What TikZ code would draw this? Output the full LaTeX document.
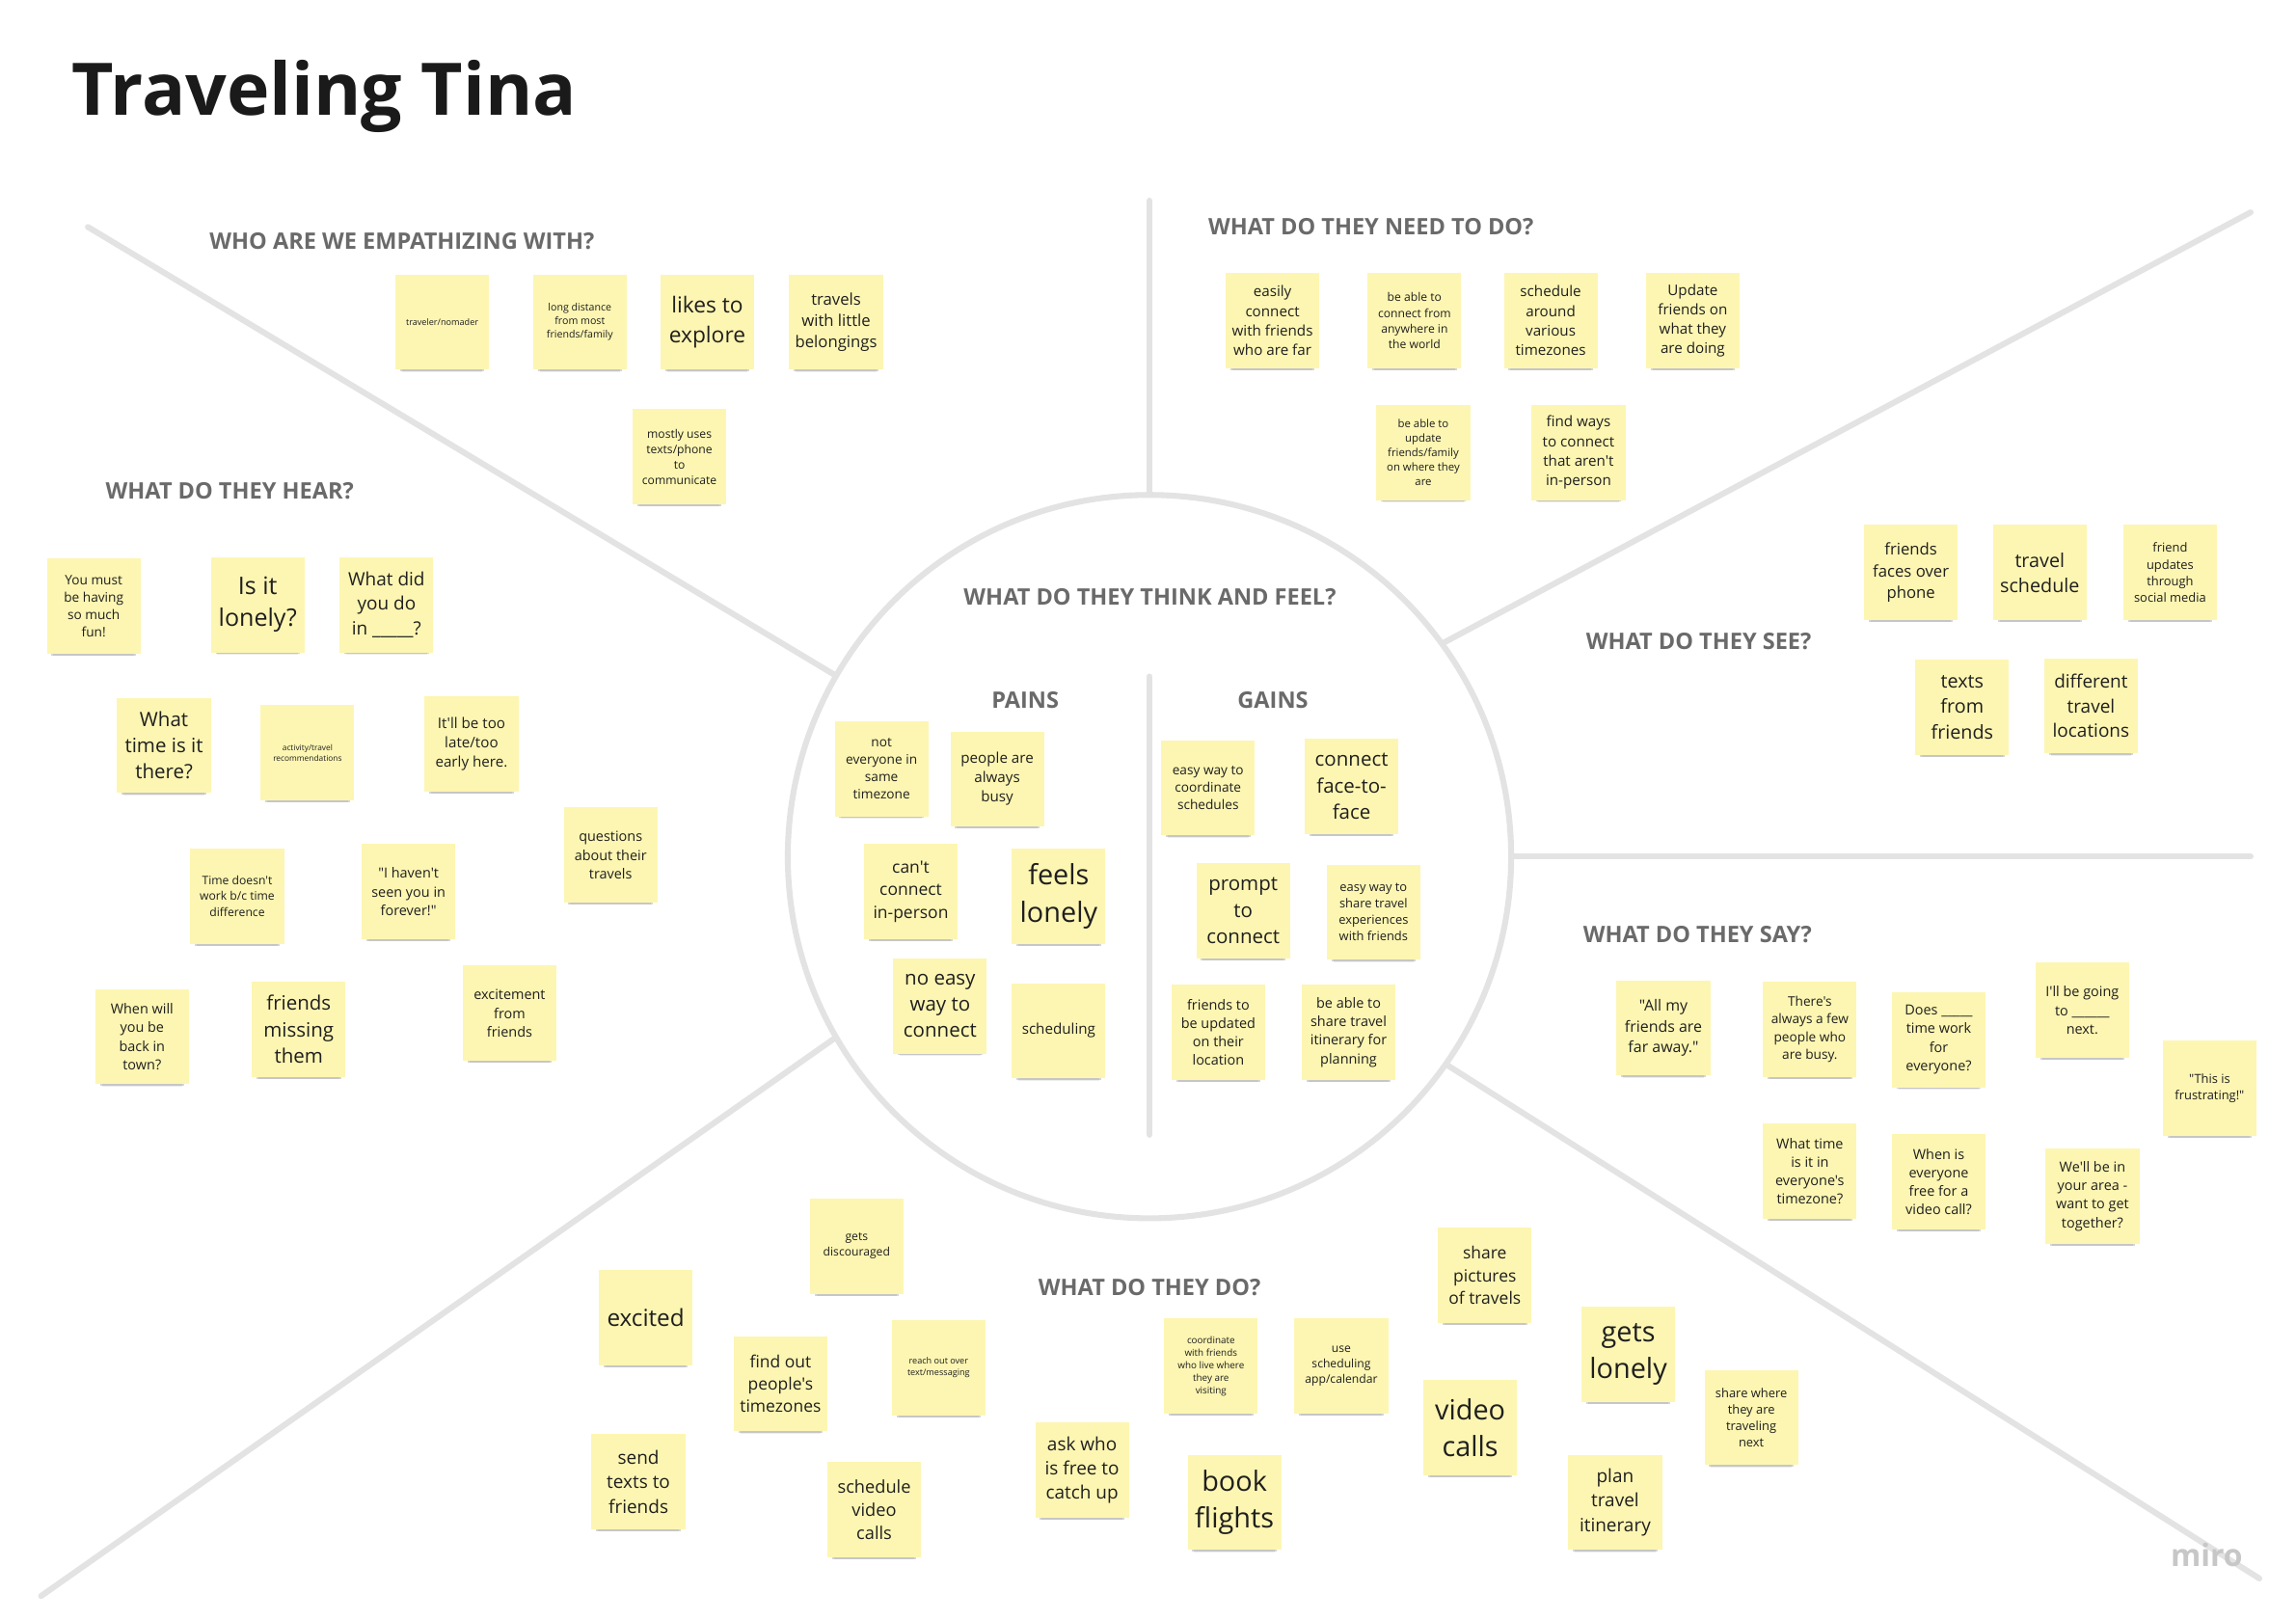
\documentclass[tikz,border=0pt]{standalone}
\usepackage{fontspec}
\setmainfont{Open Sans}[Ligatures=TeXOff]
\usetikzlibrary{shadows}
\definecolor{stick}{HTML}{FDF6B2}
\definecolor{linec}{HTML}{E3E3E3}
\definecolor{headc}{HTML}{6A6A6A}
\definecolor{titlec}{HTML}{1A1A1A}
\newcommand\fsz[1]{\fontsize{#1}{\fpeval{1.33*#1}}\selectfont}
\begin{document}
\begin{tikzpicture}[x=1pt,y=-1pt,
  sticky/.style={fill=stick, minimum width=64pt, minimum height=65pt, inner sep=1pt,
    align=center, text=black!88, font=\fsz{#1},
    drop shadow={shadow xshift=0pt, shadow yshift=-7pt, shadow scale=0.86, fill=black, opacity=0.07},
    drop shadow={shadow xshift=0pt, shadow yshift=-5pt, shadow scale=0.9, fill=black, opacity=0.16}},
  head/.style={font=\fsz{15.5}\bfseries, text=headc, anchor=west, inner sep=0pt},
  divider/.style={draw=linec, line width=4pt, line cap=round}]
\fill[white] (0,0) rectangle (1568,1106);
\useasboundingbox (0,0) rectangle (1568,1106);

% title
\node[anchor=base west, inner sep=0pt, font=\fontsize{49.5}{58}\selectfont\bfseries, text=titlec] (title) at (49,79) {Traveling Tina};

% central circle and dividers
\node[circle, draw=linec, line width=4pt, minimum size=494pt, inner sep=0pt] (circ) at (785,585) {};
\coordinate (ulend) at (60,155);
\coordinate (topend) at (785,137);
\coordinate (urend) at (1537,145);
\coordinate (rend) at (1537,585);
\coordinate (lrend) at (1543,1078);
\coordinate (llend) at (28,1090);
\coordinate (inTop) at (785,462);
\coordinate (inBot) at (785,775);
\draw[divider] (ulend) -- (circ.150);
\draw[divider] (topend) -- (circ.90);
\draw[divider] (urend) -- (circ.36);
\draw[divider] (rend) -- (circ.0);
\draw[divider] (lrend) -- (circ.-35);
\draw[divider] (llend) -- (circ.210);
\draw[divider] (inTop) -- (inBot);

% headers
\node[head] (hWho) at (143,165) {WHO ARE WE EMPATHIZING WITH?};
\node[head] (hNeed) at (825,155) {WHAT DO THEY NEED TO DO?};
\node[head] (hHear) at (72,335) {WHAT DO THEY HEAR?};
\node[head] (hThink) at (658,408) {WHAT DO THEY THINK AND FEEL?};
\node[head] (hSee) at (1083,438) {WHAT DO THEY SEE?};
\node[head] (hPains) at (677,478) {PAINS};
\node[head] (hGains) at (845,478) {GAINS};
\node[head] (hSay) at (1081,638) {WHAT DO THEY SAY?};
\node[head] (hDo) at (709,879) {WHAT DO THEY DO?};
\node[font=\fontsize{21}{24}\selectfont\bfseries, text=black!22, inner sep=0pt] (miro) at (1507,1062) {miro};

% WHO
\node[sticky=6] (w1) at (302,220) {traveler/nomader};
\node[sticky=7] (w2) at (396,220) {long distance\\from most\\friends/family};
\node[sticky=15] (w3) at (483,220) {likes to\\explore};
\node[sticky=11] (w4) at (571,220) {travels\\with little\\belongings};
\node[sticky=8] (w5) at (464,312) {mostly uses\\texts/phone\\to\\communicate};

% NEED
\node[sticky=10] (n1) at (869,219) {easily\\connect\\with friends\\who are far};
\node[sticky=8] (n2) at (966,219) {be able to\\connect from\\anywhere in\\the world};
\node[sticky=10] (n3) at (1059,219) {schedule\\around\\various\\timezones};
\node[sticky=10] (n4) at (1156,219) {Update\\friends on\\what they\\are doing};
\node[sticky=7.5] (n5) at (972,309) {be able to\\update\\friends/family\\on where they\\are};
\node[sticky=10] (n6) at (1078,309) {find ways\\to connect\\that aren't\\in-person};

% HEAR
\node[sticky=9] (h1) at (64,414) {You must\\be having\\so much\\fun!};
\node[sticky=16.5] (h2) at (176,413) {Is it\\lonely?};
\node[sticky=12.5] (h3) at (264,413) {What did\\you do\\in \_\_\_\_\_?};
\node[sticky=13.5] (h4) at (112,509) {What\\time is it\\there?};
\node[sticky=5.5] (h5) at (210,514) {activity/travel\\recommendations};
\node[sticky=10] (h6) at (322,508) {It'll be too\\late/too\\early here.};
\node[sticky=9.5] (h7) at (417,584) {questions\\about their\\travels};
\node[sticky=8] (h8) at (162,612) {Time doesn't\\work b/c time\\difference};
\node[sticky=9.5] (h9) at (279,609) {"I haven't\\seen you in\\forever!"};
\node[sticky=9.5] (h10) at (97,708) {When will\\you be\\back in\\town?};
\node[sticky=13.5] (h11) at (204,703) {friends\\missing\\them};
\node[sticky=9.5] (h12) at (348,692) {excitement\\from\\friends};

% PAINS
\node[sticky=9] (p1) at (602,525) {not\\everyone in\\same\\timezone};
\node[sticky=10] (p2) at (681,532) {people are\\always\\busy};
\node[sticky=11.5] (p3) at (622,609) {can't\\connect\\in-person};
\node[sticky=19] (p4) at (723,612) {feels\\lonely};
\node[sticky=13.5] (p5) at (642,687) {no easy\\way to\\connect};
\node[sticky=10] (p6) at (723,704) {scheduling};

% GAINS
\node[sticky=9] (g1) at (825,538) {easy way to\\coordinate\\schedules};
\node[sticky=13.5] (g2) at (923,537) {connect\\face-to-\\face};
\node[sticky=13.5] (g3) at (849,622) {prompt\\to\\connect};
\node[sticky=8.5] (g4) at (938,623) {easy way to\\share travel\\experiences\\with friends};
\node[sticky=9.5] (g5) at (832,705) {friends to\\be updated\\on their\\location};
\node[sticky=9.5] (g6) at (921,705) {be able to\\share travel\\itinerary for\\planning};

% SEE
\node[sticky=11] (s1) at (1305,391) {friends\\faces over\\phone};
\node[sticky=13] (s2) at (1393,391) {travel\\schedule};
\node[sticky=8.5] (s3) at (1482,391) {friend\\updates\\through\\social media};
\node[sticky=13] (s4) at (1340,483) {texts\\from\\friends};
\node[sticky=12.5] (s5) at (1428,482) {different\\travel\\locations};

% SAY
\node[sticky=10.5] (y1) at (1136,702) {"All my\\friends are\\far away."};
\node[sticky=9] (y2) at (1236,703) {There's\\always a few\\people who\\are busy.};
\node[sticky=9.5] (y3) at (1324,710) {Does \_\_\_\_\_\\time work\\for\\everyone?};
\node[sticky=9.5] (y4) at (1422,690) {I'll be going\\to \_\_\_\_\_\_\\next.};
\node[sticky=8.5] (y5) at (1509,743) {"This is\\frustrating!"};
\node[sticky=9.5] (y6) at (1236,800) {What time\\is it in\\everyone's\\timezone?};
\node[sticky=9.5] (y7) at (1324,807) {When is\\everyone\\free for a\\video call?};
\node[sticky=9.5] (y8) at (1429,817) {We'll be in\\your area -\\want to get\\together?};

% DO
\node[sticky=8] (d1) at (585,851) {gets\\discouraged};
\node[sticky=16] (d2) at (441,900) {excited};
\node[sticky=11.5] (d3) at (533,945) {find out\\people's\\timezones};
\node[sticky=6] (d4) at (641,934) {reach out over\\text/messaging};
\node[sticky=12.5] (d5) at (436,1012) {send\\texts to\\friends};
\node[sticky=12] (d6) at (597,1031) {schedule\\video\\calls};
\node[sticky=12.5] (d7) at (739,1004) {ask who\\is free to\\catch up};
\node[sticky=6.5] (d8) at (827,933) {coordinate\\with friends\\who live where\\they are\\visiting};
\node[sticky=8] (d9) at (916,933) {use\\scheduling\\app/calendar};
\node[sticky=19] (d10) at (843,1026) {book\\flights};
\node[sticky=11.5] (d11) at (1014,871) {share\\pictures\\of travels};
\node[sticky=19] (d12) at (1004,975) {video\\calls};
\node[sticky=19] (d13) at (1112,925) {gets\\lonely};
\node[sticky=8.5] (d14) at (1196,968) {share where\\they are\\traveling\\next};
\node[sticky=12.5] (d15) at (1103,1026) {plan\\travel\\itinerary};
\end{tikzpicture}
\end{document}
